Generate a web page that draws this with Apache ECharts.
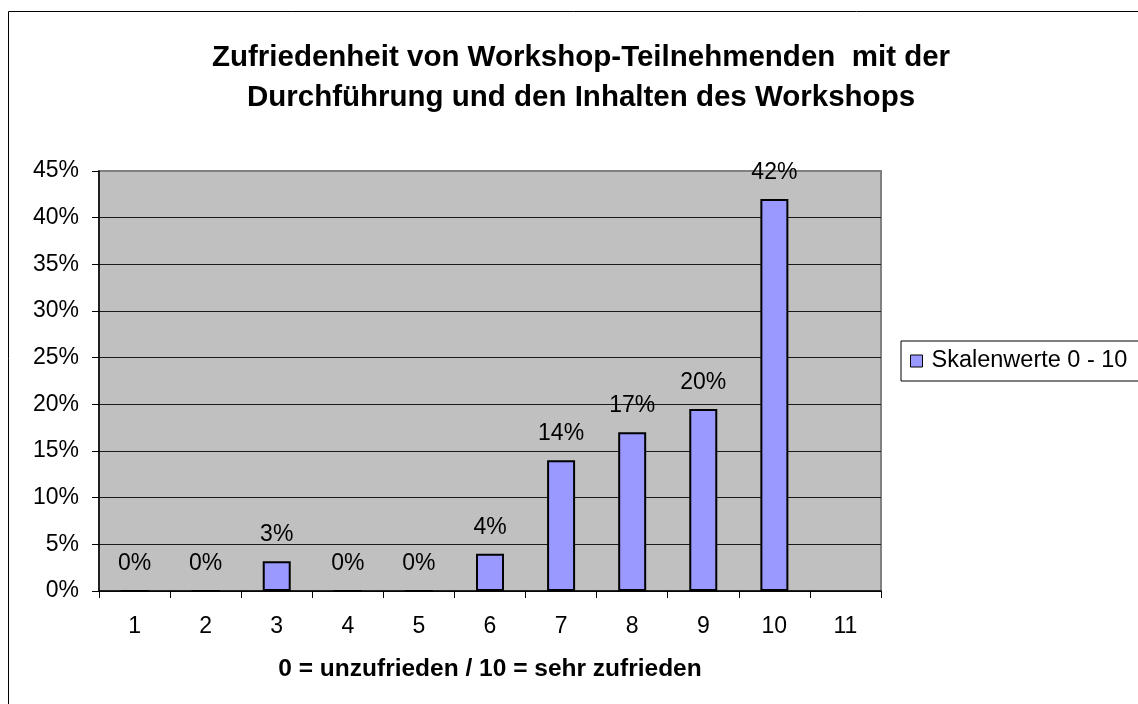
<!DOCTYPE html>
<html>
<head>
<meta charset="utf-8">
<title>Zufriedenheit Workshop</title>
<script src="https://cdn.jsdelivr.net/npm/echarts@6.0.0/dist/echarts.min.js"></script>
<style>
  html, body { margin: 0; padding: 0; background: #fff; }
  #chart { width: 1138px; height: 704px; }
</style>
</head>
<body>
<div id="chart"></div>
<script>
  const categories = ['1', '2', '3', '4', '5', '6', '7', '8', '9', '10', '11']
  // Anteil in Prozent, Kategorie 11 ohne Wert
  const skalenwerte = [0, 0, 3.2, 0, 0, 4.0, 14, 17, 19.5, 42, null]
  const yTicks = { min: 0, max: 45, interval: 5 }
  const seriesName = 'Skalenwerte 0 - 10'

  const FONT = "'Liberation Sans', Arial, sans-serif"

  let myChart = echarts.init(document.getElementById('chart'), null, { renderer: 'canvas' })

  myChart.setOption({
    backgroundColor: '#fff',
    animation: false,
    textStyle: { fontFamily: FONT },
    title: {
      text: 'Zufriedenheit von Workshop-Teilnehmenden  mit der\nDurchführung und den Inhalten des Workshops',
      left: 581,
      top: 38,
      padding: 0,
      textAlign: 'center',
      textStyle: {
        fontFamily: FONT,
        fontSize: 29.5,
        fontWeight: 'bold',
        color: '#000',
        lineHeight: 40
      }
    },
    legend: {
      left: 901,
      top: 341,
      orient: 'vertical',
      padding: [8, 40, 8, 9],
      itemWidth: 12,
      itemHeight: 12,
      itemGap: 0,
      icon: 'rect',
      backgroundColor: '#fff',
      borderColor: '#000',
      borderWidth: 1,
      borderRadius: 0,
      itemStyle: { color: '#9999FF', borderColor: '#000', borderWidth: 1 },
      textStyle: { fontFamily: FONT, fontSize: 23.5, color: '#000', padding: [0, 0, 0, 4] },
      data: [seriesName]
    },
    graphic: [
      {
        type: 'rect',
        z: -10,
        silent: true,
        shape: { x: 8.5, y: 11.5, width: 1200, height: 800 },
        style: { fill: 'transparent', stroke: '#000', lineWidth: 1 }
      }
    ],
    grid: {
      left: 99,
      top: 171,
      right: 257,
      bottom: 113,
      show: true,
      backgroundColor: '#C0C0C0',
      borderColor: '#808080',
      borderWidth: 2,
      containLabel: false
    },
    xAxis: {
      type: 'category',
      data: categories,
      boundaryGap: true,
      name: '0 = unzufrieden / 10 = sehr zufrieden',
      nameLocation: 'middle',
      nameGap: 66,
      nameTextStyle: { fontFamily: FONT, fontSize: 24.5, fontWeight: 'bold', color: '#000' },
      axisLine: { show: true, onZero: false, lineStyle: { color: '#000', width: 1.5 } },
      axisTick: { show: true, inside: false, length: 7, alignWithLabel: false, lineStyle: { color: '#000', width: 1 } },
      axisLabel: { margin: 24, fontFamily: FONT, fontSize: 23, color: '#000', interval: 0 },
      splitLine: { show: false }
    },
    yAxis: {
      type: 'value',
      min: yTicks.min,
      max: yTicks.max,
      interval: yTicks.interval,
      axisLine: { show: true, lineStyle: { color: '#000', width: 1.5 } },
      axisTick: { show: true, inside: false, length: 7, lineStyle: { color: '#000', width: 1 } },
      axisLabel: {
        margin: 20,
        fontFamily: FONT,
        fontSize: 23,
        color: '#000',
        formatter: function(v) {
          return v + '%'
        }
      },
      splitLine: {
        show: true,
        showMaxLine: false,
        lineStyle: { color: '#1a1a1a', width: 1 }
      }
    },
    series: [
      {
        name: seriesName,
        type: 'bar',
        data: skalenwerte,
        barWidth: 28,
        itemStyle: { color: '#9999FF', borderColor: '#000', borderWidth: 2 },
        label: {
          show: true,
          position: 'top',
          distance: 15,
          fontFamily: FONT,
          fontSize: 23,
          color: '#000',
          formatter: function(p) {
            return p.value == null ? '' : Math.round(p.value) + '%'
          }
        }
      }
    ]
  })
</script>
</body>
</html>
